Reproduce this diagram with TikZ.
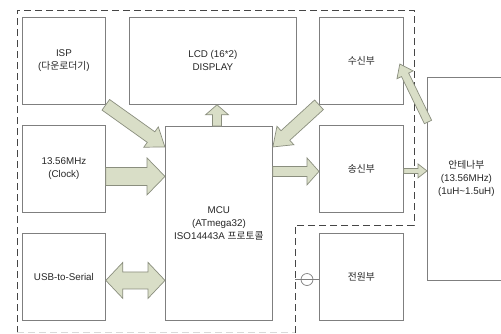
\documentclass[tikz,border=0pt]{standalone}
\usepackage{fontspec}
\setmainfont{Liberation Sans}
\newfontfamily\kr{Noto Sans CJK KR}
\usetikzlibrary{calc}
\definecolor{blkline}{HTML}{7F7F7F}
\definecolor{dashline}{HTML}{454545}
\definecolor{arrfill}{HTML}{D9DEC7}
\definecolor{arrline}{HTML}{8A8E7E}

\tikzset{
  blk/.style={draw=blkline, line width=0.8pt, anchor=north west, align=center,
    font=\fontsize{9.8}{13}\selectfont, inner sep=0pt, text=black!85},
  fatarr/.style={fill=arrfill, draw=arrline, line width=0.7pt, line join=miter},
}

% fat arrow: from, to, shaft half width, head half width, head length
\newcommand{\fatarrow}[5]{%
  \filldraw[fatarr] let \p1=(#1), \p2=(#2),
    \n1={atan2(\y2-\y1,\x2-\x1)}, \n2={veclen(\x2-\x1,\y2-\y1)} in
    ([shift={(\p1)},rotate=\n1]0pt,#3) -- ([shift={(\p1)},rotate=\n1]\n2*1pt-#5,#3)
    -- ([shift={(\p1)},rotate=\n1]\n2*1pt-#5,#4) -- ([shift={(\p1)},rotate=\n1]\n2*1pt,0pt)
    -- ([shift={(\p1)},rotate=\n1]\n2*1pt-#5,-#4) -- ([shift={(\p1)},rotate=\n1]\n2*1pt-#5,-#3)
    -- ([shift={(\p1)},rotate=\n1]0pt,-#3) -- cycle;}
% same, with a head at both ends
\newcommand{\fatdarrow}[5]{%
  \filldraw[fatarr] let \p1=(#1), \p2=(#2),
    \n1={atan2(\y2-\y1,\x2-\x1)}, \n2={veclen(\x2-\x1,\y2-\y1)} in
    ([shift={(\p1)},rotate=\n1]#5,#3) -- ([shift={(\p1)},rotate=\n1]\n2*1pt-#5,#3)
    -- ([shift={(\p1)},rotate=\n1]\n2*1pt-#5,#4) -- ([shift={(\p1)},rotate=\n1]\n2*1pt,0pt)
    -- ([shift={(\p1)},rotate=\n1]\n2*1pt-#5,-#4) -- ([shift={(\p1)},rotate=\n1]\n2*1pt-#5,-#3)
    -- ([shift={(\p1)},rotate=\n1]#5,-#3) -- ([shift={(\p1)},rotate=\n1]#5,-#4)
    -- ([shift={(\p1)},rotate=\n1]0pt,0pt) -- ([shift={(\p1)},rotate=\n1]#5,#4) -- cycle;}

\begin{document}
\begin{tikzpicture}[x=1pt, y=-1pt, line cap=butt]
  \useasboundingbox[fill=white] (0,0) rectangle (501,333);
  % board outline
  \draw[dashline, line width=1pt, dash pattern=on 7pt off 4pt]
    (17,333) -- (17,10) -- (414,10) -- (414,225) -- (295,225) -- (295,333);
  \draw[black!15, line width=1pt, dash pattern=on 7pt off 4pt] (17,332) -- (295,332);
  % blocks
  \node[blk, minimum width=83pt, minimum height=87pt] (isp) at (22,17) {ISP\\({\kr 다운로더기})};
  \node[blk, minimum width=167pt, minimum height=87pt] (lcd) at (129,17) {LCD (16*2)\\DISPLAY};
  \node[blk, minimum width=84pt, minimum height=87pt] (rx) at (319,17) {\kr 수신부};
  \node[blk, minimum width=83pt, minimum height=87pt] (clk) at (22,125) {13.56MHz\\(Clock)};
  \node[blk, minimum width=107pt, minimum height=194pt] (mcu) at (165,126) {MCU\\(ATmega32)\\ISO14443A {\kr 프로토콜}};
  \node[blk, minimum width=84pt, minimum height=87pt] (tx) at (319,125) {\kr 송신부};
  \node[blk, minimum width=83pt, minimum height=87pt] (usb) at (22,233) {USB{-}to{-}Serial};
  \node[blk, minimum width=84pt, minimum height=87pt] (pwr) at (319,233) {\kr 전원부};
  \node[blk, minimum width=78pt, minimum height=203pt] (ant) at (427,77) {{\kr 안테나부}\\(13.56MHz)\\(1uH\textasciitilde1.5uH)};
  % power tap
  \coordinate (tap) at (295,279.5);
  \draw[blkline, line width=0.8pt] (tap) -- (tap -| pwr.west);
  \node[circle, draw=blkline, line width=0.7pt, minimum size=12pt, inner sep=0pt] (tapc) at ($(tap)+(12,0)$) {};
  % arrow ends
  \coordinate (ispin) at ($(mcu.north west)+(0,21)$);
  \coordinate (rxout) at ($(mcu.north east)+(0,21)$);
  \coordinate (lcdout) at ($(mcu.north west)+(52,0)$);
  \coordinate (clkout) at ($(clk.east)+(0,7.5)$);
  \coordinate (usbio) at ($(usb.east)+(0,3.5)$);
  \coordinate (txin) at ($(tx.west)+(0,2.5)$);
  \coordinate (txout) at ($(tx.east)+(0,2)$);
  \coordinate (antout) at ($(ant.north west)+(1,45)$);
  \coordinate (rxin) at ($(rx.north east)+(-4,47)$);
  % fat arrows
  \fatarrow{isp.south east}{ispin}{6.5pt}{12.5pt}{17pt}
  \fatarrow{rx.south west}{rxout}{6.5pt}{12.5pt}{17pt}
  \fatarrow{lcdout}{lcdout |- lcd.south}{4.5pt}{11.5pt}{10pt}
  \fatarrow{clkout}{clkout -| mcu.west}{9pt}{18.5pt}{18pt}
  \fatdarrow{usbio}{usbio -| mcu.west}{8.5pt}{18pt}{17pt}
  \fatarrow{txin -| mcu.east}{txin}{5pt}{13.5pt}{12pt}
  \fatarrow{txout}{txout -| ant.west}{2.5pt}{7pt}{9pt}
  \fatarrow{antout}{rxin}{4pt}{9pt}{12pt}
\end{tikzpicture}
\end{document}
